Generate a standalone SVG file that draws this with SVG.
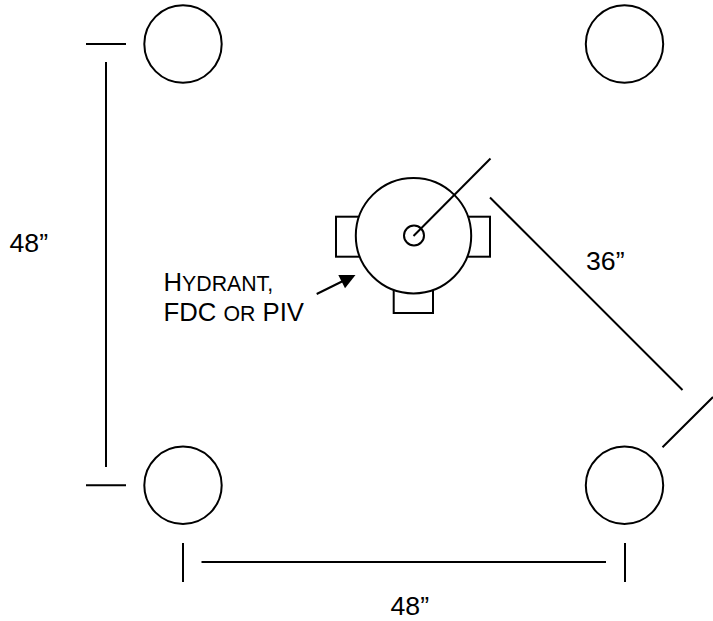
<svg xmlns="http://www.w3.org/2000/svg" width="713" height="621" viewBox="0 0 713 621">
  <style>
    .s { fill: #fff; stroke: #000; stroke-width: 2; }
    .l { fill: none; stroke: #000; stroke-width: 2; }
    text { font-family: "Liberation Sans", Arial, sans-serif; font-size: 26.67px; fill: #000; }
    .c { font-size: 25.7px; }
    .sm { font-size: 21.3px; }
  </style>
  <rect width="713" height="621" fill="#fff"/>
  <g id="post-top-left"><circle class="s" cx="183" cy="44" r="38.7"/></g>
  <g id="post-top-right"><circle class="s" cx="624.5" cy="44" r="38.7"/></g>
  <g id="post-bottom-left"><circle class="s" cx="183" cy="485.3" r="38.7"/></g>
  <g id="post-bottom-right"><circle class="s" cx="624.5" cy="485.3" r="38.7"/></g>
  <g id="hydrant">
    <rect class="s" x="336" y="216.7" width="30" height="40"/>
    <rect class="s" x="460" y="216.7" width="30" height="40"/>
    <rect class="s" x="393.7" y="280" width="39.3" height="33"/>
    <circle class="s" cx="413.5" cy="235.7" r="57.7"/>
    <circle class="s" cx="414" cy="235.5" r="10"/>
  </g>
  <g id="connectors">
    <path class="l" d="M413.5 236L490.5 158.5"/>
    <path class="l" d="M86 44H126M106 62V467M86 485.3H126"/>
    <path class="l" d="M183 543V582M201.5 562H606M625 543V582"/>
    <path class="l" d="M490 197.500L682.500 390M662.500 447.300L713 397"/>
    <path class="l" d="M316.700 294L345 280"/>
    <polygon points="338.300,275 355.500,275 345,288.300" fill="#000"/>
  </g>
  <g id="labels">
    <text x="9.500" y="252">48”</text>
    <text x="586" y="269.500">36”</text>
    <text x="390.500" y="615">48”</text>
    <text class="c" x="163.500" y="290.700">H<tspan class="sm">YDRANT,</tspan></text>
    <text class="c" x="163.500" y="320.700">FDC <tspan class="sm">OR</tspan> PIV</text>
  </g>
</svg>
